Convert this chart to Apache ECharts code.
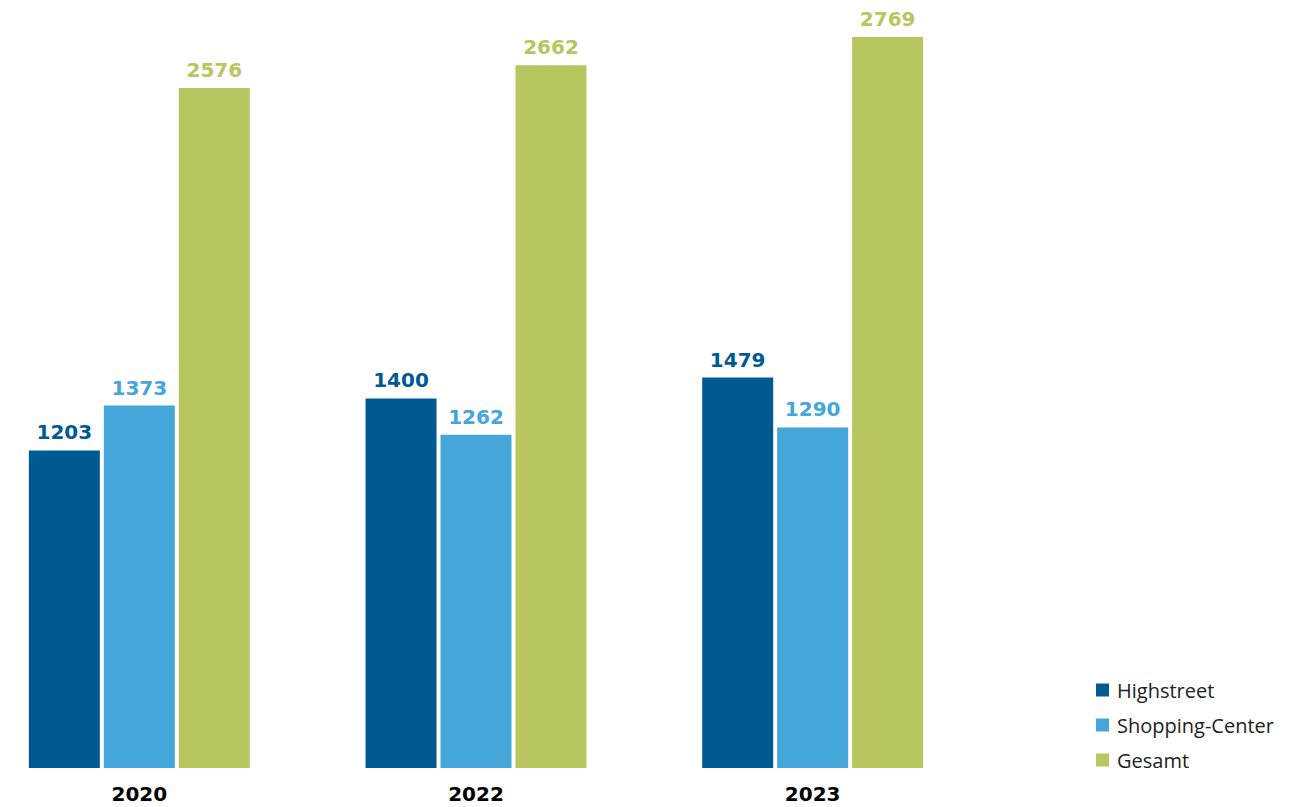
<!DOCTYPE html>
<html>
<head>
<meta charset="utf-8">
<style>
  html, body { margin: 0; padding: 0; background: #fff; }
  #retail_grp { width: 1316px; height: 807px; }
</style>
<script src="https://cdn.jsdelivr.net/npm/echarts@6/dist/echarts.min.js"></script>
</head>
<body>
<div id="retail_grp"></div>
<script>
// data
var years = ['2020', '2022', '2023'];
var highstreet = [1203, 1400, 1479];
var shoppingCenter = [1373, 1262, 1290];
var gesamt = [2576, 2662, 2769];

var colHigh = '#005a92';
var colShop = '#45a6d9';
var colGes = '#b9c55f';

var labelFont = 'DejaVu Sans';

function barLabel(color) {
  return {
    show: true,
    position: 'top',
    distance: 8,
    color: color,
    fontFamily: labelFont,
    fontWeight: 'bold',
    fontSize: 20
  };
}

var domRet = document.getElementById('retail_grp');
var myChartRet = echarts.init(domRet, null, {
  renderer: 'svg',
  useDirtyRect: false
});

var optionRet;

optionRet = {
  backgroundColor: '#ffffff',
  animation: false,
  grid: {
    left: -29,
    width: 1010,
    top: 37,
    height: 731,
    outerBoundsMode: 'none',
    containLabel: false
  },
  legend: {
    orient: 'vertical',
    left: 1091,
    top: 675,
    itemWidth: 13,
    itemHeight: 13,
    itemGap: 15,
    icon: 'rect',
    textStyle: {
      fontFamily: 'Open Sans',
      fontSize: 20,
      color: '#222',
      padding: [0, 0, 0, 3]
    },
    data: ['Highstreet', 'Shopping-Center', 'Gesamt']
  },
  xAxis: {
    type: 'category',
    data: years,
    axisLine: { show: false },
    axisTick: { show: false },
    axisLabel: {
      margin: 16,
      color: '#000',
      fontFamily: labelFont,
      fontWeight: 'bold',
      fontSize: 20
    }
  },
  yAxis: {
    type: 'value',
    min: 0,
    max: 2769,
    show: false,
    splitLine: { show: false }
  },
  series: [
    {
      name: 'Highstreet',
      type: 'bar',
      data: highstreet,
      barWidth: 71,
      barGap: '5.6%',
      itemStyle: { color: colHigh },
      label: barLabel(colHigh)
    },
    {
      name: 'Shopping-Center',
      type: 'bar',
      data: shoppingCenter,
      barWidth: 71,
      barGap: '5.6%',
      itemStyle: { color: colShop },
      label: barLabel(colShop)
    },
    {
      name: 'Gesamt',
      type: 'bar',
      data: gesamt,
      barWidth: 71,
      barGap: '5.6%',
      itemStyle: { color: colGes },
      label: barLabel(colGes)
    }
  ]
};

if (optionRet && typeof optionRet === 'object') {
  myChartRet.setOption(optionRet);
}

window.addEventListener('resize', myChartRet.resize);
</script>
</body>
</html>
